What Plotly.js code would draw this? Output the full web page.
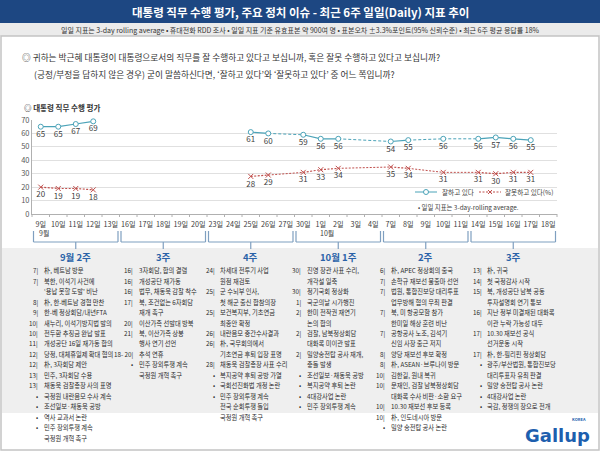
<!DOCTYPE html>
<html>
<head>
<meta charset="utf-8">
<script src="https://cdn.plot.ly/plotly-3.0.1.min.js"></script>
<style>html,body{margin:0;padding:0;background:#fff;}#chart{width:600px;height:451px;}</style>
</head>
<body>
<div id="chart"></div>
<script>
// ---------- DATA ----------
const days = ["9일","10일","11일","12일","13일","16일","17일","18일","19일","20일","23일","24일","25일","26일","27일","30일","1일","2일","3일","4일","7일","8일","9일","10일","11일","14일","15일","16일","17일","18일"];
const approve    = [65,65,67,69,null,null,null,null,null,null,null,null,61,60,null,59,56,56,null,null,54,55,null,56,null,56,57,56,55,null];
const disapprove = [20,19,19,18,null,null,null,null,null,null,null,null,28,29,null,31,33,34,null,null,35,34,null,31,null,31,30,31,31,null];
const monthLabels = [["9월",0],["10월",16]];
const seriesNames = ["잘하고 있다","잘못하고 있다(%)"];
const weekHeaders = ["9월 2주","3주","4주","10월 1주","2주","3주"];

const week1 = [
 ["7","朴, 베트남 방문"],["7","북한, 이석기 사건에"],["","‘용납 못할 도발’ 비난"],["8","朴, 한-베트남 경협 만찬"],
 ["9","한-베 정상회담/내년FTA"],["10","새누리, 이석기방지법 발의"],["10","전두환 추징금 완납 발표"],
 ["11","개성공단 16일 재가동 합의"],["12","당정, 대체휴일제 확대 협의"],["12","朴, 3자회담 제안"],
 ["13","민주, 3자회담 수용"],["13","채동욱 검찰총장 사의 표명"],["•","국정원 내란음모 수사 계속"],
 ["•","조선일보·채동욱 공방"],["•","역사 교과서 논란"],["•","민주 장외투쟁 계속"],["","국정원 개혁 촉구"]];
const week2 = [
 ["16","3자회담, 합의 결렬"],["16","개성공단 재가동"],["16","법무, 채동욱 감찰 착수"],["17","북, 조건없는 6자회담"],
 ["","재개 촉구"],["20","이산가족 선발대 방북"],["21","북, 이산가족 상봉"],["","행사 연기 선언"],
 ["18- 20","추석 연휴"],["•","민주 장외투쟁 계속"],["","국정원 개혁 촉구"]];
const week3 = [
 ["24","차세대 전투기 사업"],["","원점 재검토"],["25","군 수뇌부 인사,"],["","첫 해군 출신 합참의장"],
 ["25","보건복지부, 기초연금"],["","최종안 확정"],["26","내란음모 중간수사결과"],["26","朴, 국무회의에서"],
 ["","기초연금 후퇴 입장 표명"],["28","채동욱 검찰총장 사표 수리"],["•","복지공약 후퇴 공방 가열"],
 ["•","국회선진화법 개정 논란"],["•","민주 장외투쟁 계속"],["","전국 순회투쟁 돌입"],["","국정원 개혁 촉구"]];
const week4 = [
 ["30","진영 장관 사표 수리,"],["","개각설 일축"],["30","정기국회 정상화"],["1","국군의날 시가행진"],
 ["2","한미 전작권 재연기"],["","논의 합의"],["2","검찰, 남북정상회담"],["","대화록 미이관 발표"],
 ["2","밀양송전탑 공사 재개,"],["","충돌 발생"],["•","조선일보·채동욱 공방"],["•","복지공약 후퇴 논란"],
 ["•","4대강사업 논란"],["•","민주 장외투쟁 계속"]];
const week5 = [
 ["6","朴, APEC 정상회의 출국"],["7","손학규 재보선 불출마 선언"],["7","법원, 통합진보당 대리투표"],
 ["","업무방해 혐의 무죄 판결"],["7","북, 미 항공모함 참가"],["","한미일 해상 훈련 비난"],
 ["7","공항공사 노조, 김석기"],["","신임 사장 출근 저지"],["8","양당 재보선 후보 확정"],
 ["8","朴, ASEAN·브루나이 방문"],["10","김한길, 원내 복귀"],["10","문재인, 검찰 남북정상회담"],
 ["","대화록 수사 비판·소환 요구"],["10","10.30 재보선 후보 등록"],["10","朴, 인도네시아 방문"],["•","밀양 송전탑 공사 논란"]];
const week6 = [
 ["13","朴, 귀국"],["14","첫 국정감사 시작"],["15","북, 개성공단 남북 공동"],["","투자설명회 연기 통보"],
 ["16","지난 정부 미결재된 대화록"],["","이관 누락 가능성 대두"],["17","10.30 재보선 공식"],["","선거운동 시작"],
 ["17","朴, 한-필리핀 정상회담"],["•","광주/부산법원, 통합진보당"],["","대리투표자 유죄 판결"],
 ["•","밀양 송전탑 공사 논란"],["•","4대강사업 논란"],["•","국감, 정쟁의 장으로 전개"]];
const weekEvents = [week1,week2,week3,week4,week5,week6];

// ---------- LAYOUT HELPERS ----------
const W=600,H=451,M={l:32,r:43,t:120,b:237};
const PW=W-M.l-M.r, PH=H-M.t-M.b;
const px=x=>(x-M.l)/PW, py=y=>(H-M.b-y)/PH;
const catX=i=>M.l+(i+0.5)*PW/days.length;
const FONT='"Noto Sans CJK KR", "Noto Sans", sans-serif';
const teal='#4ba3b8', red='#c0504d';
const EV=6.25;

const annotations=[], shapes=[];
function ann(x,y,text,size,color,xanchor,extra){
  annotations.push(Object.assign({xref:'paper',yref:'paper',x:px(x),y:py(y),text:text,showarrow:false,
    xanchor:xanchor||'center',yanchor:'middle',font:{family:FONT,size:size,color:color}},extra||{}));
}
function rect(x0,y0,x1,y1,fill,line,lw){
  shapes.push({type:'rect',xref:'paper',yref:'paper',x0:px(x0),x1:px(x1),y0:py(y0),y1:py(y1),
    fillcolor:fill||'rgba(0,0,0,0)',line:{color:line||'rgba(0,0,0,0)',width:lw||0},layer:'below'});
}
function seg(x0,y0,x1,y1,color,w,dash){
  shapes.push({type:'line',xref:'paper',yref:'paper',x0:px(x0),x1:px(x1),y0:py(y0),y1:py(y1),
    line:{color:color,width:w||1,dash:dash||'solid'}});
}

// backgrounds
rect(0,0,600,23,'#1d4782');
rect(0,23,600,36,'#ebebeb');
rect(1,36,599,450,null,'#c4c4c4',1.5);
rect(2,248,598,413,'#efefef');

ann(300,11.5,'<b>대통령 직무 수행 평가, 주요 정치 이슈 - 최근 6주 일일(Daily) 지표 추이</b>',11.5,'#ffffff');
ann(300,30,'일일 지표는 3-day rolling average • 휴대전화 RDD 조사 • 일일 지표 기준 유효표본 약 900여 명 • 표본오차 ±3.3%포인트(95% 신뢰수준) • 최근 6주 평균 응답률 18%',7.0,'#333333');
ann(20,57,'◎ 귀하는 박근혜 대통령이 대통령으로서의 직무를 잘 수행하고 있다고 보십니까, 혹은 잘못 수행하고 있다고 보십니까?',8.7,'#333333','left');
ann(32,74,'(긍정/부정을 답하지 않은 경우) 굳이 말씀하신다면, ‘잘하고 있다’와 ‘잘못하고 있다’ 중 어느 쪽입니까?',8.7,'#333333','left');
ann(22,107,'<b>◎ 대통령 직무 수행 평가</b>',7.5,'#333333','left');

// x-axis boundary ticks
for(let i=0;i<=days.length;i++){ const xb=M.l+i*PW/days.length; seg(xb,214,xb,217,'#b0b0b0',1); }

// legend
seg(415,192,437,192,teal,1);
shapes.push({type:'circle',xref:'paper',yref:'paper',x0:px(423.5),x1:px(428.5),y0:py(189.5),y1:py(194.5),fillcolor:'#fff',line:{color:teal,width:1}});
ann(440,192,seriesNames[0],6.6,'#404040','left');
seg(479,192,501,192,red,1,'2px,1.5px');
seg(488,190,492,194,red,1); seg(488,194,492,190,red,1);
ann(503,192,seriesNames[1],6.6,'#404040','left');
ann(416,207,'• 일일 지표는 3-day-rolling average.',6.4,'#404040','left');

// month labels
monthLabels.forEach(([t,i])=>ann(i===0?catX(i)-4:catX(i)+6,233,t,7,'#404040',i===0?'left':'center'));

// week brackets + headers + events
const bcol='#7f9fc0';
const y0=270.7, dy=10.47;
const colBarX=[38.5,133.5,215,301.5,385.5,482];
weekHeaders.forEach((h,g)=>{
  const xl=M.l+g*5*PW/days.length+1.5, xr=M.l+(g*5+5)*PW/days.length-1.5, xc=catX(g*5+2);
  seg(xl,231,xl,242,bcol,1.2); seg(xr,231,xr,242,bcol,1.2); seg(xl,242,xr,242,bcol,1.2);
  seg(xc,242,xc,249,bcol,1.2);
  ann(xc,257,'<b>'+h+'</b>',9.5,'#2a62a8');
  const xb=colBarX[g];
  weekEvents[g].forEach(([m,t],k)=>{
    const y=y0+k*dy;
    if(m==='•'){ ann(xb+1.5,y,'•',EV,'#2b2b2b','right'); }
    else if(m!==''){ ann(xb+1.5,y,m+'|',EV,'#2b2b2b','right'); }
    ann(xb+3,y,t,EV,'#2b2b2b','left');
  });
});

// Gallup logo
ann(557,435,'<b>Gallup</b>',19,'#1d5fae','center',{font:{family:'"DejaVu Sans", sans-serif',size:18,color:'#1d5fae'}});
ann(579,419,'<b>KOREA</b>',4,'#1d5fae');

// ---------- TRACES ----------
const xs=days.map((_,i)=>i);
function bridges(vals,maxGap){
  const out=[]; let prev=-1;
  vals.forEach((v,i)=>{ if(v==null) return; if(prev>=0 && i-prev>1 && i-prev<=maxGap) out.push([prev,i]); prev=i; });
  return out;
}
const traces=[];
function addSeries(vals,color,dashMain,dashBridge,marker){
  bridges(vals,4).forEach(([a,b])=>traces.push({x:[a,b],y:[vals[a],vals[b]],mode:'lines',
    line:{color:color,width:1,dash:dashBridge},hoverinfo:'skip',showlegend:false}));
  traces.push({x:xs,y:vals,mode:'lines+markers+text',connectgaps:false,
    line:{color:color,width:1.2,dash:dashMain},marker:marker,
    text:vals.map(v=>v==null?'':String(v)),textposition:'bottom center',
    textfont:{family:FONT,size:8,color:'#404040'},cliponaxis:false,showlegend:false,hoverinfo:'skip'});
}
addSeries(disapprove,red,'2px,1.5px','2px,1.5px',{symbol:'x-thin-open',size:5,line:{color:red,width:1},color:red});
addSeries(approve,teal,'solid','3px,2px',{symbol:'circle',size:5,color:'#ffffff',line:{color:teal,width:1}});

const layout={
  width:W,height:H,margin:M,paper_bgcolor:'#ffffff',plot_bgcolor:'rgba(0,0,0,0)',showlegend:false,
  xaxis:{range:[-0.5,days.length-0.5],tickmode:'array',tickvals:xs,ticktext:days,tickangle:0,
    showgrid:false,zeroline:false,showline:true,linecolor:'#b0b0b0',linewidth:1,ticks:'outside',ticklen:3,tickcolor:'rgba(0,0,0,0)',
    tickfont:{family:FONT,size:7.2,color:'#404040'}},
  yaxis:{range:[0,70],dtick:10,showgrid:true,gridcolor:'#e0e0e0',zeroline:false,showline:true,
    linecolor:'#b0b0b0',linewidth:1,ticks:'',tickfont:{family:FONT,size:7.5,color:'#595959'}},
  annotations:annotations,shapes:shapes
};
Plotly.newPlot('chart',traces,layout,{displayModeBar:false,staticPlot:true});
</script>
</body>
</html>
